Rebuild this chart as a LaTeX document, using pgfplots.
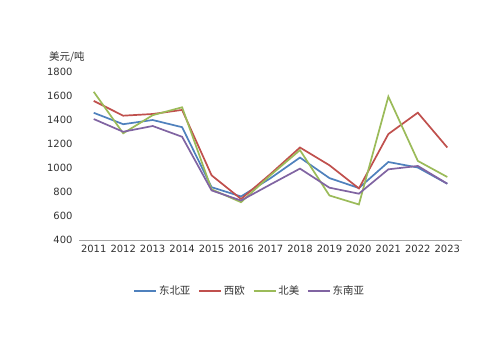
\documentclass[border=0pt]{standalone}
\usepackage{pgfplots}
\pgfplotsset{compat=1.18}
\usepackage{fontspec}
\setmainfont{DejaVu Sans}
\newfontfamily\cjk{Noto Sans CJK SC}
\definecolor{cblue}{HTML}{4F81BD}
\definecolor{cred}{HTML}{C0504D}
\definecolor{cgreen}{HTML}{9BBB59}
\definecolor{cpurple}{HTML}{8064A2}
\definecolor{axgray}{HTML}{A6A6A6}
\definecolor{txt}{HTML}{333333}
\begin{document}
\begin{tikzpicture}[x=1bp,y=1bp]
\path[use as bounding box, fill=white] (0,0) rectangle (500,353);
\begin{axis}[
  at={(79bp,113bp)}, anchor=south west,
  scale only axis, width=383bp, height=168bp,
  xmin=-0.5, xmax=12.5, ymin=400, ymax=1800,
  ytick={400,600,...,1800},
  xtick={0,...,12},
  xticklabels={2011,2012,2013,2014,2015,2016,2017,2018,2019,2020,2021,2022,2023},
  axis x line*=bottom, axis y line*=left,
  y axis line style={draw=none},
  x axis line style={draw=axgray, line width=0.8bp},
  xtick style={draw=none}, ytick style={draw=none},
  extra x ticks={-0.5,0.5,...,12.5},
  extra x tick labels={},
  extra x tick style={tick style={draw=axgray, line width=0.8bp}, major tick length=4bp, tick align=outside},
  tick label style={font=\fontsize{10}{12}\selectfont, text=txt},
  /pgf/number format/assume math mode=true,
  /pgf/number format/1000 sep={},
  yticklabel style={xshift=-3bp},
  xticklabel style={yshift=-2bp},
  legend style={at={(0.446,-0.304)}, anchor=center, draw=none, legend columns=-1,
    font=\cjk\fontsize{10.5}{12}\selectfont, text=txt,
    /tikz/every even column/.append style={column sep=6bp}},
  legend image code/.code={\draw[#1, line width=1.5bp] (0bp,0bp) -- (22bp,0bp);},
  every axis plot/.append style={line width=1.7bp},
]
\addplot[cblue] coordinates {(0,1460)(1,1365)(2,1400)(3,1340)(4,840)(5,763)(6,915)(7,1087)(8,916)(9,833)(10,1050)(11,1004)(12,869)};
\addplot[cred] coordinates {(0,1559)(1,1436)(2,1450)(3,1484)(4,939)(5,742)(6,950)(7,1171)(8,1023)(9,830)(10,1283)(11,1461)(12,1171)};
\addplot[cgreen] coordinates {(0,1635)(1,1289)(2,1440)(3,1506)(4,822)(5,715)(6,940)(7,1149)(8,771)(9,696)(10,1595)(11,1059)(12,925)};
\addplot[cpurple] coordinates {(0,1408)(1,1302)(2,1350)(3,1260)(4,813)(5,729)(6,863)(7,995)(8,836)(9,786)(10,989)(11,1017)(12,869)};
\legend{东北亚,西欧,北美,东南亚}
\end{axis}
\node[anchor=west, inner sep=0pt, text=txt, font=\cjk\fontsize{10.5}{12}\selectfont] at (49,296) {美元/吨};
\end{tikzpicture}
\end{document}
